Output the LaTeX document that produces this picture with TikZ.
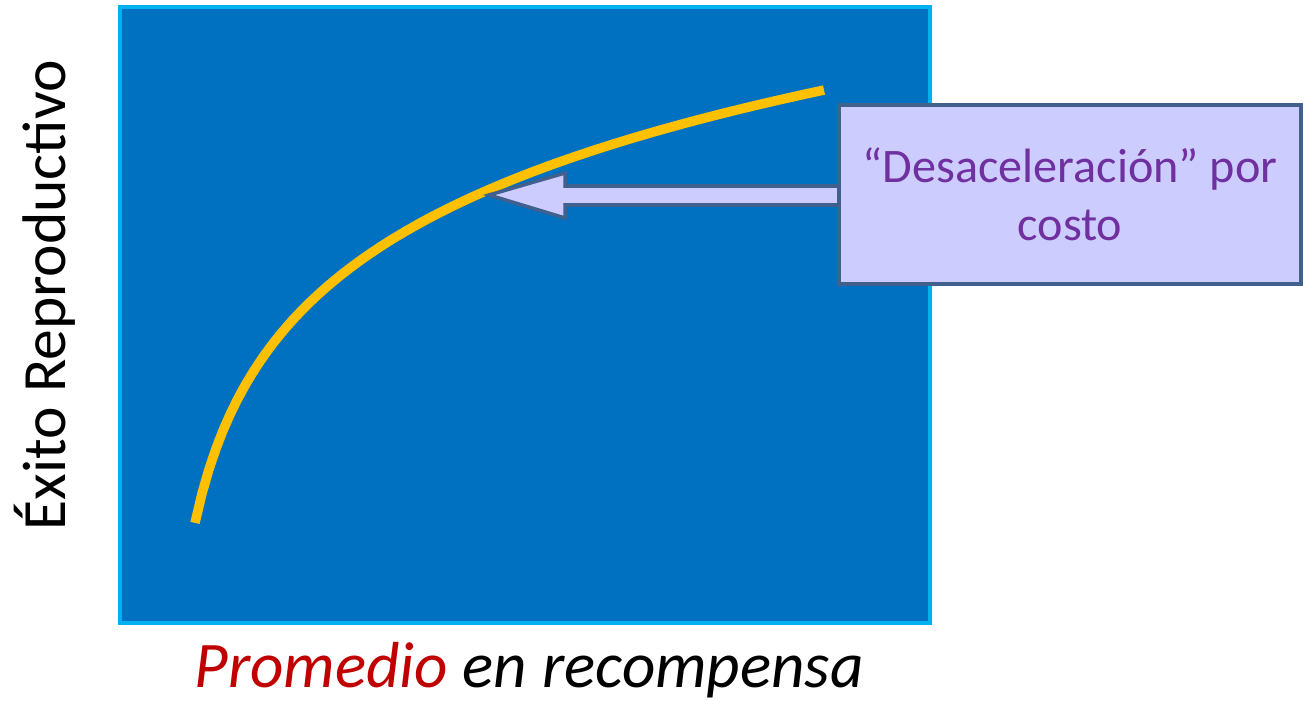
\documentclass[tikz,border=0pt]{standalone}
\usepackage{fontspec}
\setmainfont{Carlito}
\definecolor{panelblue}{HTML}{0070C0}
\definecolor{paneledge}{HTML}{00B0F0}
\definecolor{curveyellow}{HTML}{FFC000}
\definecolor{boxfill}{HTML}{CCCCFF}
\definecolor{boxedge}{HTML}{41608E}
\definecolor{textpurple}{HTML}{7030A0}
\definecolor{labelred}{HTML}{C00000}

\begin{document}
\begin{tikzpicture}[x=0.01cm,y=-0.01cm,
        panel/.style={draw=paneledge,fill=panelblue,line width=1.2pt},
        curve/.style={draw=curveyellow,line width=2.7pt},
        pointer/.style={draw=boxedge,fill=boxfill,line width=1pt,line join=miter},
        callout/.style={draw=boxedge,fill=boxfill,line width=1.1pt,text=textpurple,
            minimum width=4.62cm,minimum height=1.79cm,align=center,inner sep=0pt,
            font=\fontsize{13.7}{16.5}\selectfont}]
        \useasboundingbox (0,0) rectangle (1304,706);
        % plot area
        \draw[panel] (120,7) rectangle (930,623);
        \draw[curve] plot[domain=195:824,samples=90] (\x,{999.4-140.1*ln(\x-165)});
        % callout
        \coordinate (tip) at (489,195);
        \draw[pointer] (tip) -- ++(76,-22) -- ++(0,13) -- ++(290,0) -- ++(0,19)
                -- ++(-290,0) -- ++(0,13) -- cycle;
        \node[callout] (box) at (1070,194.5) {``Desaceleración'' por\\ costo};
        % axis labels
        \node[rotate=90] (ylab) at (45,295) {\fontsize{17.5}{20}\selectfont Éxito Reproductivo};
        \node (xlab) at (529,670) {\fontsize{18.5}{22}\selectfont\itshape
                \textcolor{labelred}{Promedio} en recompensa};
\end{tikzpicture}
\end{document}
